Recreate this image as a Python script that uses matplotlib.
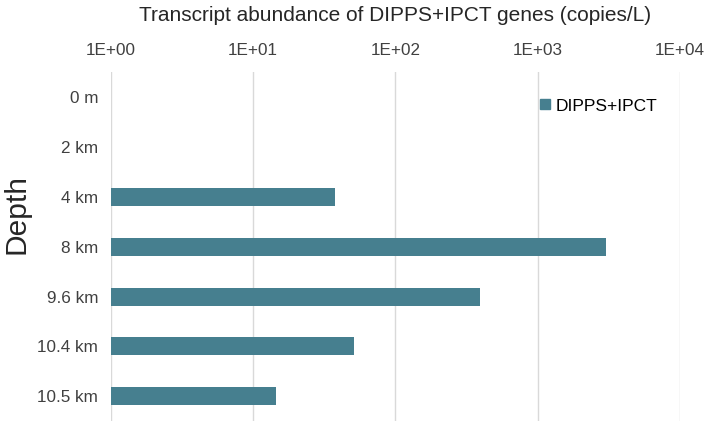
import matplotlib
matplotlib.use('Agg')
import matplotlib.pyplot as plt
from matplotlib.lines import Line2D

plt.rcParams['font.family'] = ['Liberation Sans', 'DejaVu Sans']

# data
depths = ['0 m', '2 km', '4 km', '8 km', '9.6 km', '10.4 km', '10.5 km']
abundance = [None, None, 37.8, 3000, 395, 51, 14.5]
xticks = [1, 10, 100, 1000, 10000]
xtick_labels = ['1E+00', '1E+01', '1E+02', '1E+03', '1E+04']

bar_color = '#467F8F'

fig = plt.figure(figsize=(7.09, 4.23), dpi=100)
ax = fig.add_axes([0.156, 0.004, 0.803, 0.826])

ypos = list(range(len(depths)))
for y, v in zip(ypos, abundance):
    if v is not None:
        ax.barh(y, v - 1, left=1, height=0.36, color=bar_color, zorder=3)

ax.set_xscale('log')
ax.set_xlim(1, 10000)
ax.set_ylim(len(depths) - 0.5, -0.5)
ax.set_yticks(ypos)
ax.set_yticklabels(depths, fontsize=12.3, color='#404040')
ax.set_xticks(xticks)
ax.set_xticklabels(xtick_labels, fontsize=12.3, color='#404040')
ax.xaxis.set_minor_locator(matplotlib.ticker.NullLocator())
ax.xaxis.tick_top()
ax.tick_params(axis='y', length=0, pad=9)
ax.tick_params(axis='x', length=0, pad=10)
ax.grid(axis='x', color='#d9d9d9', linewidth=1, zorder=0)
for s in ax.spines.values():
    s.set_visible(False)

ax.set_ylabel('Depth', fontsize=21.5, color='#262626')
ax.yaxis.set_label_coords(-0.141, 0.594)
fig.text(0.557, 0.963, 'Transcript abundance of DIPPS+IPCT genes (copies/L)',
         ha='center', va='center', fontsize=15, color='#262626')

handle = Line2D([], [], marker='s', linestyle='none', color=bar_color, markersize=7)
fig.legend([handle], ['DIPPS+IPCT'], loc='center left',
           bbox_to_anchor=(538 / 709, 1 - 106 / 423), borderpad=0, borderaxespad=0,
           frameon=False, fontsize=12.5, handletextpad=0.2, handlelength=0.8)

fig.savefig('out.png', dpi=100)
